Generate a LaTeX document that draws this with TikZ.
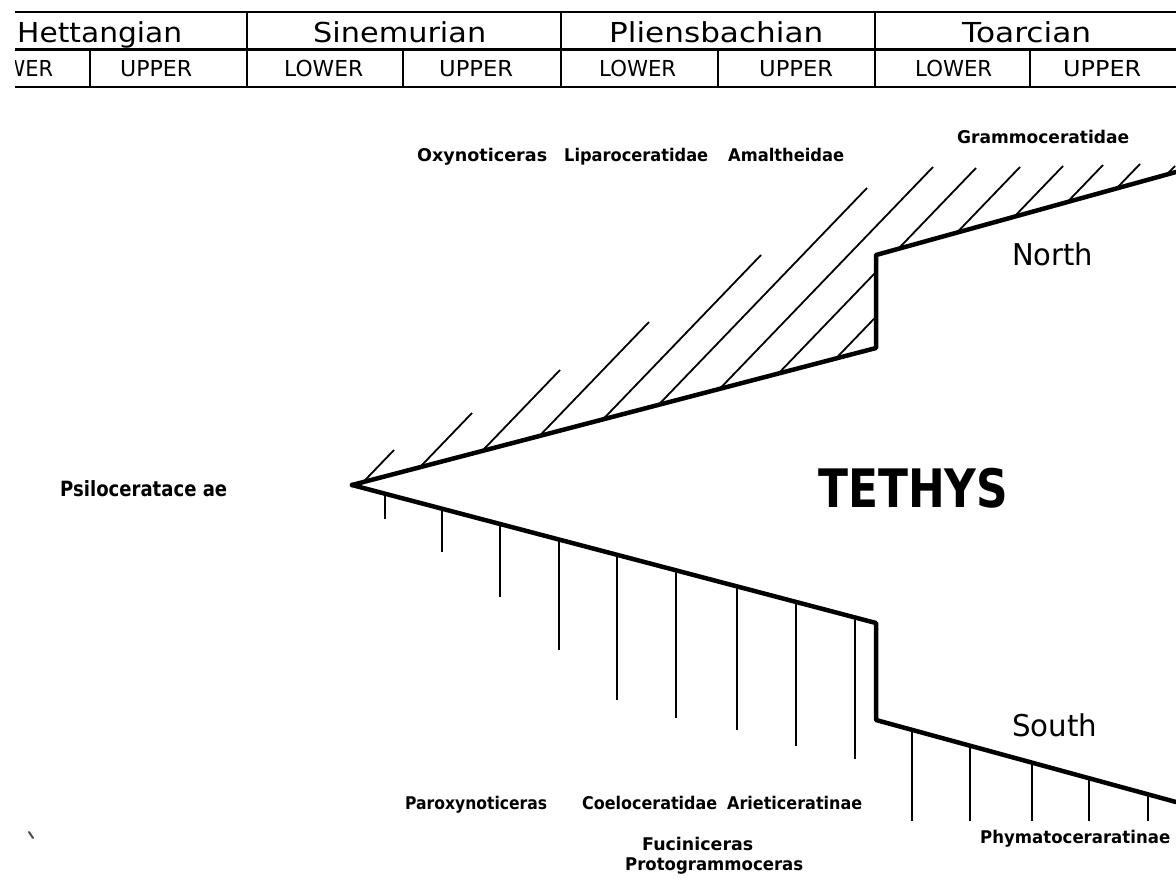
\documentclass[tikz,border=0pt]{standalone}
\usepackage{fontspec}
\setmainfont{DejaVu Sans}
\usepackage{graphicx}
\newcommand{\fitto}[2]{\resizebox{#1}{\height}{#2}}
\begin{document}
\begin{tikzpicture}[x=1pt,y=-1pt,
  bound/.style={line width=4.5pt, line join=round, line cap=round},
  hatch/.style={line width=1.8pt},
  tickline/.style={line width=2.2pt},
  rule/.style={line width=2.4pt},
  taxon/.style={inner sep=0pt, anchor=base west, font=\fontsize{17.5}{18}\selectfont\bfseries},
  stage/.style={inner sep=0pt, anchor=base west, font=\fontsize{27.5}{29}\selectfont},
  substage/.style={inner sep=0pt, anchor=base west, font=\fontsize{22}{24}\selectfont},
  region/.style={inner sep=0pt, anchor=base west, font=\fontsize{30}{32}\selectfont},
]
\fill[white] (0,0) rectangle (1176,892);
\useasboundingbox (0,0) rectangle (1176,892);

% ---------- header table ----------
\begin{scope}
\clip (15,0) rectangle (1176,100);
\draw[rule, line width=2.8pt] (15,12) -- (1176,12);
\draw[rule, line width=3pt] (15,49) -- (1176,49);
\draw[rule] (15,87) -- (1176,87);
\foreach \x in {247,561,875} \draw[rule] (\x,12) -- (\x,87);
\foreach \x in {90,403,718,1030} \draw[rule] (\x,49) -- (\x,87);
\node[stage] (hett) at (17,42) {\fitto{165pt}{Hettangian}};
\node[stage] (sine) at (313,42) {\fitto{173pt}{Sinemurian}};
\node[stage] (plie) at (609,42) {\fitto{214pt}{Pliensbachian}};
\node[stage] (toar) at (962,42) {\fitto{129pt}{Toarcian}};
\node[substage] (hl) at (-23,76.5) {\fitto{76pt}{LOWER}};
\node[substage] (hu) at (120,76.5) {\fitto{72pt}{UPPER}};
\node[substage] (sl) at (284,76.5) {\fitto{79pt}{LOWER}};
\node[substage] (su) at (439,76.5) {\fitto{74pt}{UPPER}};
\node[substage] (pl) at (599,76.5) {\fitto{77pt}{LOWER}};
\node[substage] (pu) at (759,76.5) {\fitto{74pt}{UPPER}};
\node[substage] (tl) at (915,76.5) {\fitto{77pt}{LOWER}};
\node[substage] (tu) at (1063,76.5) {\fitto{78pt}{UPPER}};
\end{scope}

% ---------- boundary points ----------
\coordinate (apex) at (352,485);
\coordinate (nA) at (876,348);
\coordinate (nB) at (876,255);
\coordinate (nC) at (1176,172);
\coordinate (sA) at (876,623);
\coordinate (sB) at (876,720);
\coordinate (sC) at (1176,802);

% ---------- northern hatching ----------
\begin{scope}
\clip (apex) -- (nA) -- (nB) -- (nC) -- (1176,100) -- (352,100) -- cycle;
\foreach \x/\y in {394/450, 472/413, 560/370, 649/322, 761/255, 867/188,
                   933/167, 976/168, 1020/167, 1063/166, 1103/165, 1140/164, 1175/166}
  \draw[hatch] (\x,\y) -- ++(-300,312);
\end{scope}

% ---------- southern ticks ----------
\foreach \x/\yb in {385/519, 442/552, 500/597, 559/650, 617/700, 676/718, 737/730, 796/746, 855/759}{
  \pgfmathsetmacro\yt{485+(\x-352)/524*138}
  \draw[tickline] (\x,\yt) -- (\x,\yb);
}
\foreach \x in {912,970,1032,1089,1148}{
  \pgfmathsetmacro\yt{720+(\x-876)/300*82}
  \draw[tickline] (\x,\yt) -- (\x,821);
}

% ---------- boundaries ----------
\draw[bound] (apex) -- (nA) -- (nB) -- (nC);
\draw[bound] (apex) -- (sA) -- (sB) -- (sC);

% ---------- labels ----------
\node[taxon] (oxy) at (417,161) {\fitto{130pt}{Oxynoticeras}};
\node[taxon] (lipa) at (564,161) {\fitto{144pt}{Liparoceratidae}};
\node[taxon] (amal) at (728,161) {\fitto{116pt}{Amaltheidae}};
\node[taxon] (gram) at (957,143) {\fitto{172pt}{Grammoceratidae}};
\node[taxon, font=\fontsize{21}{22}\selectfont\bfseries] (psil) at (60,496) {\fitto{167pt}{Psiloceratace ae}};
\node[taxon] (parox) at (405,809) {\fitto{142pt}{Paroxynoticeras}};
\node[taxon] (coel) at (582,809) {\fitto{135pt}{Coeloceratidae}};
\node[taxon] (ariet) at (727,809) {\fitto{135pt}{Arieticeratinae}};
\node[taxon] (fuci) at (642,850) {\fitto{111pt}{Fuciniceras}};
\node[taxon] (proto) at (625,870) {\fitto{178pt}{Protogrammoceras}};
\node[taxon] (phym) at (980,843) {\fitto{190pt}{Phymatoceraratinae}};

\node[region] (north) at (1012,265) {\fitto{81pt}{North}};
\node[region] (south) at (1012,736) {\fitto{85pt}{South}};
\node[inner sep=0pt, anchor=base west, font=\fontsize{53}{55}\selectfont\bfseries] (tethys) at (818,507) {\fitto{190pt}{TETHYS}};

% speck
\draw[line width=2pt, black!70, line cap=round] (29,832) -- (33,838);
\end{tikzpicture}
\end{document}
